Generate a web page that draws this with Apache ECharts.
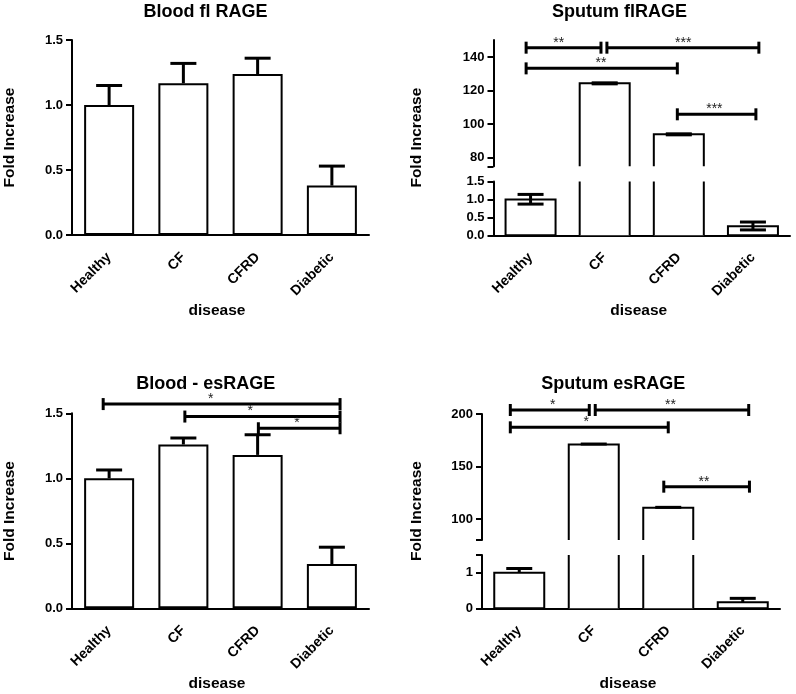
<!DOCTYPE html>
<html><head><meta charset="utf-8">
<script src="https://cdn.jsdelivr.net/npm/echarts@6/dist/echarts.min.js"></script>
<style>html,body{margin:0;padding:0;background:#fff}#c{width:796px;height:694px}</style>
</head><body><div id="c"></div><script>
// ---------------- data ----------------
const categories = ['Healthy', 'CF', 'CFRD', 'Diabetic'];

// Blood fl RAGE (mean, upper SEM end)
const bloodFlMean = [1.0, 1.167, 1.238, 0.38];
const bloodFlErrHigh = [1.15, 1.32, 1.36, 0.53];

// Sputum flRAGE (mean, lower/upper SEM ends)
const sputumFlMean = [1.0, 124.3, 94.0, 0.25];
const sputumFlErrLow = [0.87, 124.0, 93.7, 0.15];
const sputumFlErrHigh = [1.14, 124.6, 94.3, 0.37];

// Blood - esRAGE
const bloodEsMean = [1.0, 1.26, 1.18, 0.34];
const bloodEsErrHigh = [1.064, 1.31, 1.335, 0.47];

// Sputum esRAGE
const sputumEsMean = [1.0, 171.0, 110.7, 0.17];
const sputumEsErrHigh = [1.12, 171.4, 111.1, 0.28];

// significance brackets: [from category index, to category index, y value, stars, star position index]
const sputumFlSig = [
  [-0.06, 0.95, 145.5, '**', 0.38],
  [1.03, 3.08, 145.5, '***', 2.06],
  [-0.06, 1.98, 133.2, '**', 0.95],
  [1.98, 3.04, 105.9, '***', 2.48]
];
const bloodEsSig = [
  [-0.08, 3.11, 1.571, '*', 1.37],
  [1.02, 3.11, 1.475, '*', 1.90],
  [2.01, 3.11, 1.385, '*', 2.53]
];
const sputumEsSig = [
  [-0.12, 0.94, 203.8, '*', 0.45],
  [1.02, 3.08, 203.8, '**', 2.03],
  [-0.12, 2.0, 187.3, '*', 0.90],
  [1.94, 3.09, 130.8, '**', 2.48]
];

// axis ranges and ticks
const bloodRange = [0, 1.5];
const bloodInterval = 0.5;
const sputumFlUpperRange = [75, 150];
const sputumFlUpperTicks = [75, 80, 100, 120, 140];
const sputumFlUpperLabels = [80, 100, 120, 140];
const sputumFlLowerRange = [0, 1.5];
const sputumFlLowerTicks = [0, 0.5, 1.0, 1.5];
const sputumFlLowerLabels = [0, 0.5, 1.0, 1.5];
const sputumEsUpperRange = [80, 200];
const sputumEsUpperTicks = [80, 100, 150, 200];
const sputumEsUpperLabels = [100, 150, 200];
const sputumEsLowerRange = [0, 1.5];
const sputumEsLowerTicks = [0, 1, 1.5];
const sputumEsLowerLabels = [0, 1];

// ---------------- styling ----------------
const FONT = '"Liberation Sans", Arial, Helvetica, sans-serif';
const BAR_W = 50, CAP_W = 26, CAP_H = 6;

function barRender(segMin, segMax) {
  return function (params, api) {
    const c = api.value(0), v = api.value(1);
    if (v <= segMin) return null;
    const top = Math.min(v, segMax);
    const pt = api.coord([c, top]);
    const pb = api.coord([c, Math.max(segMin, 0)]);
    const x0 = pt[0] - BAR_W / 2, x1 = pt[0] + BAR_W / 2;
    const st = { stroke: '#000', lineWidth: 2, fill: null };
    const children = [{ type: 'rect', shape: { x: x0, y: pt[1], width: BAR_W, height: pb[1] - pt[1] }, style: { fill: '#fff' } }];
    if (v <= segMax) {
      if (segMin <= 0) {
        children.push({ type: 'polygon', shape: { points: [[x0, pb[1]], [x0, pt[1]], [x1, pt[1]], [x1, pb[1]]] }, style: st });
      } else {
        children.push({ type: 'polyline', shape: { points: [[x0, pb[1]], [x0, pt[1]], [x1, pt[1]], [x1, pb[1]]] }, style: st });
      }
    } else {
      children.push({ type: 'line', shape: { x1: x0, y1: pb[1], x2: x0, y2: pt[1] }, style: st });
      children.push({ type: 'line', shape: { x1: x1, y1: pb[1], x2: x1, y2: pt[1] }, style: st });
    }
    return { type: 'group', children };
  };
}

function errRender(params, api) {
  const c = api.value(0), m = api.value(1), lo = api.value(2), hi = api.value(3);
  const pm = api.coord([c, m]), plo = api.coord([c, lo]), phi = api.coord([c, hi]);
  const st = { stroke: '#000', lineWidth: 3 };
  const x = pm[0];
  const ch = [
    { type: 'line', shape: { x1: x, y1: plo[1], x2: x, y2: phi[1] }, style: st },
    { type: 'line', shape: { x1: x - CAP_W / 2, y1: phi[1], x2: x + CAP_W / 2, y2: phi[1] }, style: st }
  ];
  if (lo < m) ch.push({ type: 'line', shape: { x1: x - CAP_W / 2, y1: plo[1], x2: x + CAP_W / 2, y2: plo[1] }, style: st });
  return { type: 'group', children: ch };
}

function sigRender(sig) {
  return function (params, api) {
    const a = api.value(1), b = api.value(2), y = api.value(3), li = api.value(4);
    const p0 = api.coord([0, y]);
    const bw = api.size([1, 0])[0];
    const xa = p0[0] + a * bw, xb = p0[0] + b * bw, xl = p0[0] + li * bw, yy = p0[1];
    const st = { stroke: '#000', lineWidth: 3 };
    return { type: 'group', children: [
      { type: 'line', shape: { x1: xa, y1: yy, x2: xb, y2: yy }, style: st },
      { type: 'line', shape: { x1: xa, y1: yy - CAP_H, x2: xa, y2: yy + CAP_H }, style: st },
      { type: 'line', shape: { x1: xb, y1: yy - CAP_H, x2: xb, y2: yy + CAP_H }, style: st },
      { type: 'text', style: { text: sig[params.dataIndex][3], x: xl, y: yy - 5, align: 'center', verticalAlign: 'middle', fontSize: 14, fontFamily: FONT, fill: '#222' } }
    ] };
  };
}

function errData(mean, low, high, range) {
  const out = [];
  mean.forEach((m, i) => { if (m >= range[0] && m <= range[1]) out.push([i, m, low ? low[i] : m, high[i]]); });
  return out;
}
function sigData(sig) { return sig.map(s => [0, s[0], s[1], s[2], s[4]]); }

function catAxis(grid, show) {
  return {
    type: 'category', gridIndex: grid, data: categories, show: show,
    axisLine: { onZero: false, lineStyle: { color: '#000', width: 2 } },
    axisTick: { alignWithLabel: true, interval: 0, length: 7, lineStyle: { color: '#000', width: 2 } },
    axisLabel: { interval: 0, rotate: 45, margin: 20, fontSize: 14, fontWeight: 'bold', fontFamily: FONT, color: '#000' },
    splitLine: { show: false }
  };
}
function valAxis(grid, range, extra) {
  const ax = {
    type: 'value', gridIndex: grid, min: range[0], max: range[1],
    axisLine: { show: true, onZero: false, lineStyle: { color: '#000', width: 2 } },
    axisTick: { show: true, length: 6, lineStyle: { color: '#000', width: 2 } },
    axisLabel: { margin: 9, fontSize: 13, fontWeight: 'bold', fontFamily: FONT, color: '#000' },
    splitLine: { show: false }
  };
  if (extra.interval != null) ax.interval = extra.interval;
  if (extra.ticks) ax.axisTick.customValues = extra.ticks;
  if (extra.labels) ax.axisLabel.customValues = extra.labels;
  if (extra.fmt) ax.axisLabel.formatter = extra.fmt;
  return ax;
}
const fix1 = v => Number(v).toFixed(1);
const int0 = v => String(Math.round(v));

function txt(text, x, y, size, rot) {
  return { type: 'text', x: x, y: y, rotation: rot || 0, silent: true,
    style: { text: text, fontSize: size, fontWeight: 'bold', fontFamily: FONT, fill: '#000', align: 'center', verticalAlign: 'middle' } };
}

const grids = [
  { left: 72, top: 40, width: 297, height: 195 },
  { left: 493.5, top: 40.1, width: 296.5, height: 126.2 },
  { left: 493.5, top: 181.5, width: 296.5, height: 53.8 },
  { left: 72, top: 413.3, width: 297, height: 195 },
  { left: 482, top: 414, width: 298, height: 126 },
  { left: 482, top: 555, width: 298, height: 53.3 }
].map(g => Object.assign({ outerBoundsMode: 'none', containLabel: false }, g));

const option = {
  backgroundColor: '#fff',
  animation: false,
  grid: grids,
  xAxis: [catAxis(0, true), catAxis(1, false), catAxis(2, true), catAxis(3, true), catAxis(4, false), catAxis(5, true)],
  yAxis: [
    valAxis(0, bloodRange, { interval: bloodInterval, fmt: fix1 }),
    valAxis(1, sputumFlUpperRange, { ticks: sputumFlUpperTicks, labels: sputumFlUpperLabels, fmt: int0 }),
    valAxis(2, sputumFlLowerRange, { ticks: sputumFlLowerTicks, labels: sputumFlLowerLabels, fmt: fix1 }),
    valAxis(3, bloodRange, { interval: bloodInterval, fmt: fix1 }),
    valAxis(4, sputumEsUpperRange, { ticks: sputumEsUpperTicks, labels: sputumEsUpperLabels, fmt: int0 }),
    valAxis(5, sputumEsLowerRange, { ticks: sputumEsLowerTicks, labels: sputumEsLowerLabels, fmt: int0 })
  ],
  series: [
    // Panel 1: Blood fl RAGE
    { type: 'bar', xAxisIndex: 0, yAxisIndex: 0, data: bloodFlMean, barWidth: BAR_W, silent: true,
      itemStyle: { color: '#fff', borderColor: '#000', borderWidth: 2 } },
    { type: 'custom', xAxisIndex: 0, yAxisIndex: 0, renderItem: errRender, data: errData(bloodFlMean, null, bloodFlErrHigh, bloodRange), z: 5, silent: true },
    // Panel 2: Sputum flRAGE (broken axis)
    { type: 'custom', xAxisIndex: 1, yAxisIndex: 1, renderItem: barRender(sputumFlUpperRange[0], sputumFlUpperRange[1]), data: sputumFlMean.map((v, i) => [i, v]), silent: true },
    { type: 'custom', xAxisIndex: 2, yAxisIndex: 2, renderItem: barRender(sputumFlLowerRange[0], sputumFlLowerRange[1]), data: sputumFlMean.map((v, i) => [i, v]), silent: true },
    { type: 'custom', xAxisIndex: 1, yAxisIndex: 1, renderItem: errRender, data: errData(sputumFlMean, sputumFlErrLow, sputumFlErrHigh, sputumFlUpperRange), z: 5, silent: true },
    { type: 'custom', xAxisIndex: 2, yAxisIndex: 2, renderItem: errRender, data: errData(sputumFlMean, sputumFlErrLow, sputumFlErrHigh, sputumFlLowerRange), z: 5, silent: true },
    { type: 'custom', xAxisIndex: 1, yAxisIndex: 1, renderItem: sigRender(sputumFlSig), data: sigData(sputumFlSig), z: 6, silent: true, clip: false },
    // Panel 3: Blood - esRAGE
    { type: 'bar', xAxisIndex: 3, yAxisIndex: 3, data: bloodEsMean, barWidth: BAR_W, silent: true,
      itemStyle: { color: '#fff', borderColor: '#000', borderWidth: 2 } },
    { type: 'custom', xAxisIndex: 3, yAxisIndex: 3, renderItem: errRender, data: errData(bloodEsMean, null, bloodEsErrHigh, bloodRange), z: 5, silent: true },
    { type: 'custom', xAxisIndex: 3, yAxisIndex: 3, renderItem: sigRender(bloodEsSig), data: sigData(bloodEsSig), z: 6, silent: true, clip: false },
    // Panel 4: Sputum esRAGE (broken axis)
    { type: 'custom', xAxisIndex: 4, yAxisIndex: 4, renderItem: barRender(sputumEsUpperRange[0], sputumEsUpperRange[1]), data: sputumEsMean.map((v, i) => [i, v]), silent: true },
    { type: 'custom', xAxisIndex: 5, yAxisIndex: 5, renderItem: barRender(sputumEsLowerRange[0], sputumEsLowerRange[1]), data: sputumEsMean.map((v, i) => [i, v]), silent: true },
    { type: 'custom', xAxisIndex: 4, yAxisIndex: 4, renderItem: errRender, data: errData(sputumEsMean, null, sputumEsErrHigh, sputumEsUpperRange), z: 5, silent: true },
    { type: 'custom', xAxisIndex: 5, yAxisIndex: 5, renderItem: errRender, data: errData(sputumEsMean, null, sputumEsErrHigh, sputumEsLowerRange), z: 5, silent: true },
    { type: 'custom', xAxisIndex: 4, yAxisIndex: 4, renderItem: sigRender(sputumEsSig), data: sigData(sputumEsSig), z: 6, silent: true, clip: false }
  ],
  graphic: [
    txt('Blood fl RAGE', 205.5, 12, 18),
    txt('Sputum flRAGE', 619.5, 12, 18),
    txt('Blood - esRAGE', 205.8, 384.5, 18),
    txt('Sputum esRAGE', 613.3, 384.5, 18),
    txt('Fold Increase', 10, 137.5, 15.5, Math.PI / 2),
    txt('Fold Increase', 417, 137.6, 15.5, Math.PI / 2),
    txt('Fold Increase', 10, 511, 15.5, Math.PI / 2),
    txt('Fold Increase', 417, 511, 15.5, Math.PI / 2),
    txt('disease', 217, 311, 15.5),
    txt('disease', 638.7, 311, 15.5),
    txt('disease', 217, 684, 15.5),
    txt('disease', 628, 684, 15.5)
  ]
};

const chart = echarts.init(document.getElementById('c'), null, { renderer: 'canvas', width: 796, height: 694 });
chart.setOption(option);
</script></body></html>
